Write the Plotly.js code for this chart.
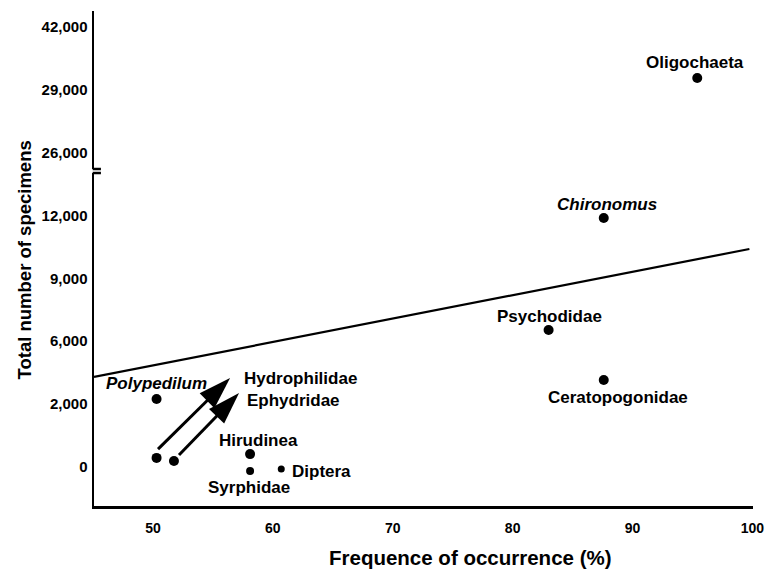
<!DOCTYPE html>
<html>
<head>
<meta charset="utf-8">
<script src="https://cdn.plot.ly/plotly-3.0.1.min.js"></script>
<style>html,body{margin:0;padding:0;background:#fff;}#chart{width:769px;height:570px;}</style>
</head>
<body>
<div id="chart"></div>
<script>
// ---- data ----
const tickCounts = [0, 2000, 6000, 9000, 12000, 26000, 29000, 42000];
const tickLabels = ['0', '2,000', '6,000', '9,000', '12,000', '26,000', '29,000', '42,000'];
const lowerMax = 12000; // values above this sit on the upper (broken) panel
const xTicks = [50, 60, 70, 80, 90, 100];

const taxa = ['Oligochaeta', 'Chironomus', 'Psychodidae', 'Ceratopogonidae', 'Polypedilum',
              'Hydrophilidae', 'Ephydridae', 'Hirudinea', 'Syrphidae', 'Diptera'];
const frequency = [95.4, 87.6, 83.0, 87.6, 50.3, 50.3, 51.75, 58.1, 58.1, 60.7];
const specimens = [31450, 11880, 6540, 3540, 2330, 290, 190, 410, -130, -60];

const regX = [45.08, 99.75];
const regY = [3730, 10400];

const arrowFromX = [50.42, 52.17];
const arrowFromY = [570, 380];
const arrowToX = [56.43, 57.18];
const arrowToY = [3660, 2710];

// ---- broken, piecewise axis: count -> axis position ----
function toAxis(v) {
  const c = tickCounts;
  if (v <= c[0]) return (v - c[0]) / (c[1] - c[0]);
  for (let i = 0; i < c.length - 1; i++) {
    if (v <= c[i + 1]) return i + (v - c[i]) / (c[i + 1] - c[i]);
  }
  const n = c.length - 1;
  return n + (v - c[n]) / (c[n] - c[n - 1]);
}

// ---- label styling (offsets in px) ----
const labelStyle = {
  'Oligochaeta':     {dx: -2, dy: 16, anchor: 'center'},
  'Chironomus':      {dx: 3,  dy: 13, anchor: 'center', italic: true},
  'Psychodidae':     {dx: 1,  dy: 13, anchor: 'center'},
  'Ceratopogonidae': {dx: 14, dy: -18, anchor: 'center'},
  'Polypedilum':     {dx: 0,  dy: 15, anchor: 'center', italic: true},
  'Hirudinea':       {dx: 8,  dy: 14, anchor: 'center'},
  'Syrphidae':       {dx: -1, dy: -16, anchor: 'center'},
  'Diptera':         {dx: 9,  dy: -3, anchor: 'left'}
};
const arrowLabelStyle = [
  {name: 'Hydrophilidae', dx: 12, dy: 0},
  {name: 'Ephydridae', dx: 6, dy: -8}
];
const markerSizes = {'Diptera': 7, 'Syrphidae': 8};

const lowX = [], lowY = [], lowS = [], upX = [], upY = [], upS = [];
const annotations = [];
const FONT = 'Liberation Sans, Arial, Helvetica, sans-serif';

taxa.forEach((t, i) => {
  const upper = specimens[i] > lowerMax;
  const pos = toAxis(specimens[i]);
  const sz = markerSizes[t] || 10;
  if (upper) { upX.push(frequency[i]); upY.push(pos); upS.push(sz); }
  else { lowX.push(frequency[i]); lowY.push(pos); lowS.push(sz); }
  const st = labelStyle[t];
  if (st) {
    annotations.push({
      x: frequency[i], y: pos, xref: 'x', yref: upper ? 'y2' : 'y',
      text: st.italic ? '<b><i>' + t + '</i></b>' : '<b>' + t + '</b>',
      showarrow: false, xanchor: st.anchor, yanchor: 'middle',
      xshift: st.dx, yshift: st.dy,
      font: {family: FONT, size: 17, color: '#000'}
    });
  }
});

const traces = [];
// regression line
traces.push({
  x: regX, y: regY.map(toAxis), xaxis: 'x', yaxis: 'y',
  mode: 'lines', line: {color: '#000', width: 2.2}, hoverinfo: 'skip', showlegend: false
});
// arrows
arrowFromX.forEach((_, k) => {
  traces.push({
    x: [arrowFromX[k], arrowToX[k]], y: [toAxis(arrowFromY[k]), toAxis(arrowToY[k])],
    xaxis: 'x', yaxis: 'y', mode: 'lines+markers',
    line: {color: '#000', width: 3},
    marker: {symbol: 'arrow', angleref: 'previous', size: [0, 34], color: '#000',
             opacity: 1, line: {width: 0}},
    hoverinfo: 'skip', showlegend: false
  });
  const ls = arrowLabelStyle[k];
  annotations.push({
    x: arrowToX[k], y: toAxis(arrowToY[k]), xref: 'x', yref: 'y',
    text: '<b>' + ls.name + '</b>', showarrow: false, xanchor: 'left', yanchor: 'middle',
    xshift: ls.dx, yshift: ls.dy,
    font: {family: FONT, size: 17, color: '#000'}
  });
});
// points
traces.push({
  x: lowX, y: lowY, xaxis: 'x', yaxis: 'y', mode: 'markers',
  marker: {color: '#000', size: lowS, opacity: 1, line: {width: 0}}, hoverinfo: 'skip', showlegend: false
});
traces.push({
  x: upX, y: upY, xaxis: 'x', yaxis: 'y2', mode: 'markers',
  marker: {color: '#000', size: upS, opacity: 1, line: {width: 0}}, hoverinfo: 'skip', showlegend: false
});

// axis titles
annotations.push({
  xref: 'paper', yref: 'paper', x: 0.5714, y: -0.105,
  text: '<b>Frequence of occurrence (%)</b>', showarrow: false,
  xanchor: 'center', yanchor: 'middle',
  font: {family: FONT, size: 20.5, color: '#000'}
});
annotations.push({
  xref: 'paper', yref: 'paper', x: -0.104, y: 0.497,
  text: '<b>Total number of specimens</b>', showarrow: false, textangle: -90,
  xanchor: 'center', yanchor: 'middle',
  font: {family: FONT, size: 18.5, color: '#000'}
});

const lowIdx = tickCounts.map((c, i) => i).filter(i => tickCounts[i] <= lowerMax);
const upIdx = tickCounts.map((c, i) => i).filter(i => tickCounts[i] > lowerMax);
const bold = s => '<b>' + s + '</b>';

const tickFontY = {family: FONT, size: 15, color: '#000'};
const layout = {
  width: 769, height: 570,
  margin: {l: 94, r: 16, t: 11, b: 64},
  paper_bgcolor: '#fff', plot_bgcolor: '#fff',
  showlegend: false,
  xaxis: {
    range: [45.08, 100.05], domain: [0, 1], anchor: 'y',
    tickmode: 'array', tickvals: xTicks, ticktext: xTicks.map(v => bold(String(v))),
    showline: true, linecolor: '#000', linewidth: 3,
    ticks: '', showgrid: false, zeroline: false, ticklabelstandoff: 7,
    tickfont: {family: FONT, size: 14, color: '#000'}
  },
  yaxis: {
    domain: [0, 0.6727], range: [-0.62, 4.675], anchor: 'x',
    tickmode: 'array', tickvals: lowIdx, ticktext: lowIdx.map(i => bold(tickLabels[i])),
    showline: true, linecolor: '#000', linewidth: 2.5,
    ticks: '', showgrid: false, zeroline: false, ticklabelstandoff: 1,
    tickfont: tickFontY
  },
  yaxis2: {
    domain: [0.6808, 1], range: [4.741, 7.254], anchor: 'x',
    tickmode: 'array', tickvals: upIdx, ticktext: upIdx.map(i => bold(tickLabels[i])),
    showline: true, linecolor: '#000', linewidth: 2.5,
    ticks: '', showgrid: false, zeroline: false, ticklabelstandoff: 1,
    tickfont: tickFontY
  },
  shapes: [
    {type: 'line', xref: 'paper', yref: 'paper', x0: -0.002, x1: 0.0105, y0: 0.6808, y1: 0.6808,
     line: {color: '#000', width: 2.5}},
    {type: 'line', xref: 'paper', yref: 'paper', x0: -0.002, x1: 0.0105, y0: 0.6727, y1: 0.6727,
     line: {color: '#000', width: 2.5}}
  ],
  annotations: annotations
};

Plotly.newPlot('chart', traces, layout, {staticPlot: true, displayModeBar: false});
</script>
</body>
</html>
